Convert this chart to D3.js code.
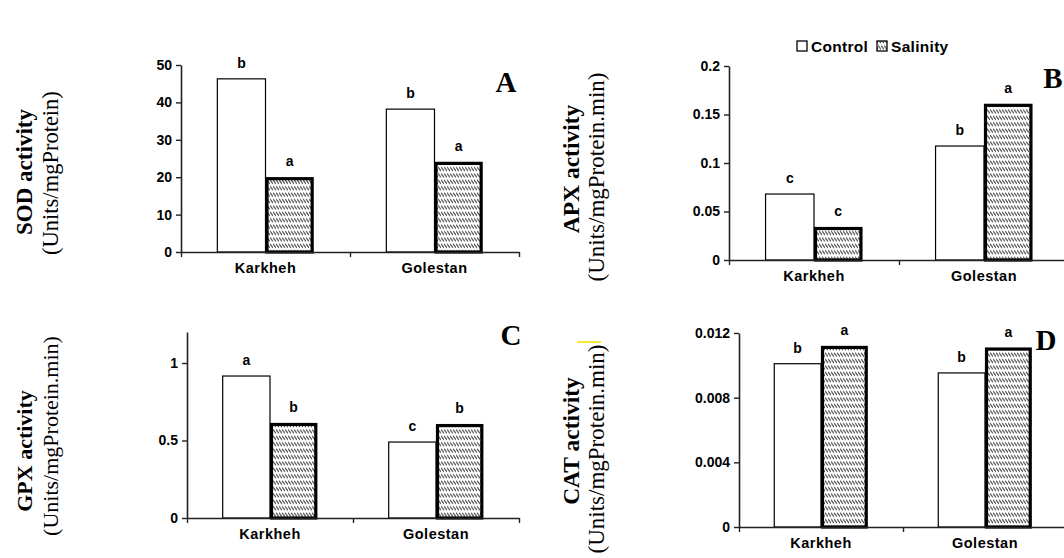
<!DOCTYPE html>
<html><head><meta charset="utf-8">
<script src="https://cdn.jsdelivr.net/npm/d3@7"></script>
<style>
html,body{margin:0;padding:0;background:#fff;}
svg{display:block;}
.tick text{font-family:"Liberation Sans",Arial,sans-serif;font-weight:bold;font-size:14px;fill:#000;}
</style></head>
<body>
<svg id="chart" width="1064" height="558"></svg>
<script>
// ---------- data ----------
const categories = ["Karkheh", "Golestan"];
const seriesNames = ["Control", "Salinity"];

const sodControl = [46.3, 38.2];
const sodSalinity = [20.0, 24.1];
const sodControlLetters = ["b", "b"];
const sodSalinityLetters = ["a", "a"];
const sodTicks = [0, 10, 20, 30, 40, 50];

const apxControl = [0.068, 0.1175];
const apxSalinity = [0.034, 0.161];
const apxControlLetters = ["c", "b"];
const apxSalinityLetters = ["c", "a"];
const apxTicks = [0, 0.05, 0.1, 0.15, 0.2];

const gpxControl = [0.916, 0.49];
const gpxSalinity = [0.613, 0.606];
const gpxControlLetters = ["a", "c"];
const gpxSalinityLetters = ["b", "b"];
const gpxTicks = [0, 0.5, 1];

const catControl = [0.0101, 0.00953];
const catSalinity = [0.0112, 0.0111];
const catControlLetters = ["b", "b"];
const catSalinityLetters = ["a", "a"];
const catTicks = [0, 0.004, 0.008, 0.012];

// ---------- layout ----------
const svg = d3.select("#chart");
const defs = svg.append("defs");
const pat = defs.append("pattern").attr("id", "hatch")
  .attr("patternUnits", "userSpaceOnUse").attr("width", 3).attr("height", 6.4);
pat.append("rect").attr("width", 3).attr("height", 6.4).attr("fill", "#fff");
pat.append("path").attr("d", "M0,0.6 L3,4.6").attr("stroke", "#4a4a4a").attr("stroke-width", 1.1);

const panels = [
  {key: "A", control: sodControl, salinity: sodSalinity, cl: sodControlLetters, sl: sodSalinityLetters,
   ticks: sodTicks, max: 50, x0: 181, x1: 519, yTop: 65, yBase: 252,
   title: "SOD activity", unit: "(Units/mgProtein)", tx: 32, ux: 58, tyc: 172, uyc: 173, tfs: 23, ufs: 22.5,
   lx: 506, ly: 92},
  {key: "B", control: apxControl, salinity: apxSalinity, cl: apxControlLetters, sl: apxSalinityLetters,
   ticks: apxTicks, max: 0.2, x0: 729, x1: 1069, yTop: 66, yBase: 260,
   title: "APX activity", unit: "(Units/mgProtein.min)", tx: 579, ux: 604, tyc: 169, uyc: 177, tfs: 23.5, ufs: 23,
   lx: 1053, ly: 88},
  {key: "C", control: gpxControl, salinity: gpxSalinity, cl: gpxControlLetters, sl: gpxSalinityLetters,
   ticks: gpxTicks, max: 1.2, x0: 187, x1: 519, yTop: 332, yBase: 518,
   title: "GPX activity", unit: "(Units/mgProtein.min)", tx: 32, ux: 58, tyc: 451, uyc: 436, tfs: 22, ufs: 22,
   lx: 511, ly: 345},
  {key: "D", control: catControl, salinity: catSalinity, cl: catControlLetters, sl: catSalinityLetters,
   ticks: catTicks, max: 0.012, x0: 739, x1: 1067, yTop: 333, yBase: 527,
   title: "CAT activity", unit: "(Units/mgProtein.min)", tx: 579, ux: 604, tyc: 441, uyc: 449, tfs: 23.5, ufs: 23,
   lx: 1046, ly: 350}
];

const sans = '"Liberation Sans", Arial, sans-serif';
const serif = '"Liberation Serif", "Times New Roman", serif';

panels.forEach(p => {
  const g = svg.append("g");
  const y = d3.scaleLinear().domain([0, p.max]).range([p.yBase, p.yTop]);
  const xb = d3.scaleBand().domain(categories).range([p.x0, p.x1]).paddingInner(0.43).paddingOuter(0.215);
  const xs = d3.scaleBand().domain(seriesNames).range([0, xb.bandwidth()]);
  const step = xb.step();

  const rows = categories.map((c, i) => [
    {cat: c, s: "Control", v: p.control[i], L: p.cl[i]},
    {cat: c, s: "Salinity", v: p.salinity[i], L: p.sl[i]}
  ]).flat();

  g.selectAll("rect.bar").data(rows).join("rect")
    .attr("class", "bar")
    .attr("x", d => xb(d.cat) + xs(d.s) + (d.s === "Salinity" ? 1.5 : 0))
    .attr("width", d => xs.bandwidth() - (d.s === "Salinity" ? 3 : 0))
    .attr("y", d => y(d.v) + (d.s === "Salinity" ? 1.5 : 0))
    .attr("height", d => p.yBase - y(d.v) - (d.s === "Salinity" ? 1.5 : 0))
    .attr("fill", d => d.s === "Control" ? "#fff" : "url(#hatch)")
    .attr("stroke", "#000")
    .attr("stroke-width", d => d.s === "Control" ? 1.2 : 3.2);

  g.selectAll("text.sig").data(rows).join("text")
    .attr("class", "sig")
    .attr("x", d => xb(d.cat) + xs(d.s) + xs.bandwidth() / 2)
    .attr("y", d => y(d.v) - 11)
    .attr("text-anchor", "middle")
    .attr("font-family", sans).attr("font-weight", "bold").attr("font-size", 14)
    .text(d => d.L);

  const ya = g.append("g").attr("transform", `translate(${p.x0},0)`)
    .call(d3.axisLeft(y).tickValues(p.ticks).tickFormat(d => String(d)).tickSize(5).tickSizeOuter(0).tickPadding(4));
  ya.select(".domain").attr("stroke", "#222").attr("stroke-width", 1.6);
  ya.selectAll(".tick line").attr("stroke", "#222").attr("stroke-width", 1.4);

  const xl = d3.scaleLinear().domain([0, categories.length]).range([p.x0, p.x0 + step * categories.length]);
  const xa = g.append("g").attr("transform", `translate(0,${p.yBase})`)
    .call(d3.axisBottom(xl).tickValues(d3.range(categories.length + 1)).tickFormat("").tickSize(5).tickSizeOuter(0));
  xa.select(".domain").attr("stroke", "#222").attr("stroke-width", 1.6);
  xa.selectAll(".tick line").attr("stroke", "#222").attr("stroke-width", 1.4);

  const xc = g.append("g").attr("transform", `translate(0,${p.yBase})`)
    .call(d3.axisBottom(xb).tickSize(0).tickPadding(11));
  xc.select(".domain").remove();
  xc.selectAll(".tick text").attr("letter-spacing", "0.5px").style("font-size", "14.5px");

  g.append("text")
    .attr("transform", `translate(${p.tx},${p.tyc}) rotate(-90)`)
    .attr("text-anchor", "middle")
    .attr("font-family", serif).attr("font-weight", "bold").attr("font-size", p.tfs)
    .text(p.title);
  g.append("text")
    .attr("transform", `translate(${p.ux},${p.uyc}) rotate(-90)`)
    .attr("text-anchor", "middle")
    .attr("font-family", serif).attr("font-size", p.ufs)
    .text(p.unit);

  g.append("text")
    .attr("x", p.lx).attr("y", p.ly)
    .attr("text-anchor", "middle")
    .attr("font-family", serif).attr("font-weight", "bold").attr("font-size", 29)
    .text(p.key);
});

// small yellow mark near the CAT title
svg.append("line").attr("x1", 577).attr("x2", 601).attr("y1", 342).attr("y2", 342)
  .attr("stroke", "#f5e400").attr("stroke-width", 1.6);

// legend
const legend = svg.append("g").attr("transform", "translate(797,0)");
const legendItems = [{name: seriesNames[0], fill: "#fff", x: 0}, {name: seriesNames[1], fill: "url(#hatch)", x: 80}];
legend.selectAll("rect").data(legendItems).join("rect")
  .attr("x", d => d.x).attr("y", 41).attr("width", 10).attr("height", 10)
  .attr("fill", d => d.fill).attr("stroke", "#000").attr("stroke-width", 1.3);
legend.selectAll("text").data(legendItems).join("text")
  .attr("x", d => d.x + 14).attr("y", 52)
  .attr("font-family", sans).attr("font-weight", "bold").attr("font-size", 15.5)
  .attr("letter-spacing", "0.3px")
  .text(d => d.name);
</script>
</body></html>
